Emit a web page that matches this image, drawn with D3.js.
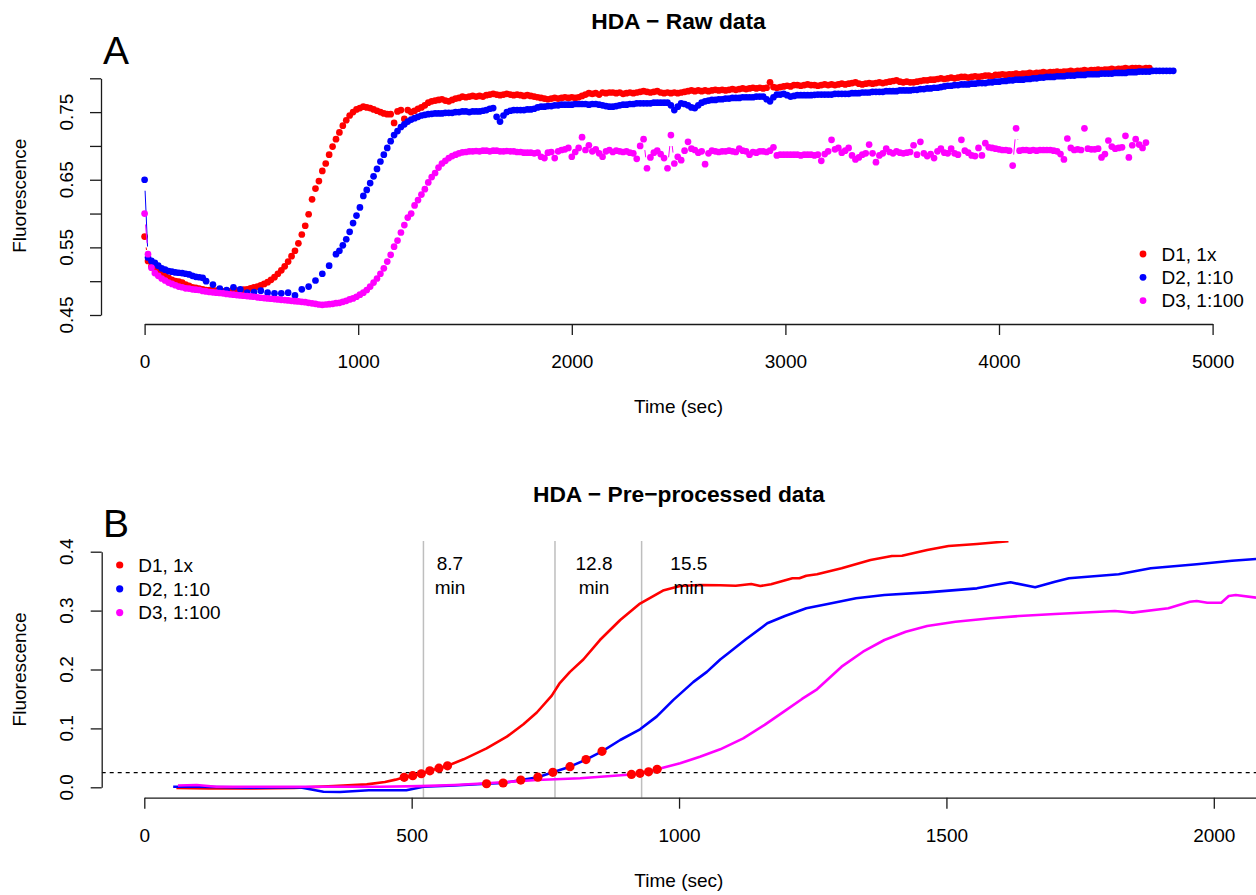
<!DOCTYPE html>
<html>
<head>
<meta charset="utf-8">
<script src="https://d3js.org/d3.v7.min.js"></script>
<style>
  body { margin: 0; background: #fff; }
  svg { display: block; font-family: "Liberation Sans", Arial, Helvetica, sans-serif; }
</style>
</head>
<body>
<svg id="chart" width="1256" height="895"></svg>
<script>
// ---------------------------------------------------------------
// Series
// ---------------------------------------------------------------
const seriesNames  = ["D1, 1x", "D2, 1:10", "D3, 1:100"];
const seriesColors = ["#FF0000", "#0000FF", "#FF00FF"];

// Raw plate-reader fluorescence, one reading every rawStep seconds (null = no reading)
const rawStep = 16;
const rawD1 = [
  0.566,0.530,0.522,0.517,0.514,0.511,0.508,0.505,0.502,0.500,0.4995,0.498,0.495,0.493,0.491,0.490,0.489,0.488,0.487,0.4868,
  0.4865,0.486,0.4855,0.485,0.4845,0.485,0.4855,0.486,0.4868,0.4875,0.488,0.4895,0.491,0.492,0.494,0.496,0.4985,0.502,0.506,0.511,
  0.516,0.522,0.529,0.537,0.545,0.556,0.569,0.582,0.599,0.621,0.637,0.648,0.663,0.674,0.687,0.699,0.710,0.720,0.730,0.738,
  0.745,0.750,0.754,0.756,0.758,0.757,0.756,0.754,0.752,0.750,0.748,0.747,0.747,0.734,0.751,0.753,0.740,0.753,0.750,0.752,
  0.755,0.757,0.760,0.764,0.766,0.767,0.768,0.769,0.767,0.766,0.768,0.770,0.771,0.773,0.772,0.773,0.774,0.773,0.774,0.773,
  0.775,0.776,0.777,0.776,0.775,0.776,0.777,0.776,0.775,0.776,0.775,0.774,0.775,0.774,0.773,0.772,0.771,0.770,0.769,0.770,
  0.771,0.770,0.771,0.772,0.771,0.772,0.771,0.772,0.774,0.776,0.778,0.777,0.778,0.776,0.779,0.778,0.779,0.779,0.778,0.779,
  0.777,0.778,0.779,0.778,0.779,0.780,0.781,0.780,0.779,0.780,0.781,0.779,0.778,0.779,0.778,0.779,0.778,0.779,0.780,0.781,
  0.782,0.781,0.782,0.781,0.782,0.781,0.782,0.783,0.782,0.783,0.782,0.783,0.784,0.783,0.784,0.785,0.784,0.785,0.786,0.785,
  0.786,0.785,0.786,0.794,0.787,0.786,0.787,0.788,0.789,0.788,0.790,0.790,0.789,0.790,0.791,0.790,0.790,0.789,0.790,0.791,
  0.790,0.791,0.790,0.791,0.792,0.791,0.792,0.793,0.794,0.792,0.791,0.792,0.793,0.792,0.793,0.794,0.793,0.794,0.795,0.796,
  0.797,0.795,0.794,0.795,0.794,0.794,0.795,0.796,0.797,0.797,0.798,0.798,0.799,0.800,0.799,0.800,0.801,0.800,0.801,0.802,
  0.802,0.801,0.802,0.803,0.802,0.803,0.804,0.804,0.803,0.805,0.805,0.806,0.805,0.806,0.806,0.807,0.806,0.807,0.807,0.808,
  0.807,0.808,0.808,0.809,0.808,0.809,0.809,0.810,0.809,0.810,0.810,0.811,0.810,0.811,0.811,0.812,0.811,0.812,0.812,0.813,
  0.812,0.813,0.813,0.814,0.813,0.814,0.814,0.815,0.814,0.815,0.815,0.815,0.814,0.815,0.815
];
const rawD2 = [
  0.650,0.535,0.530,0.527,0.523,0.519,0.517,0.515,0.514,0.513,0.5125,0.512,0.511,0.510,0.508,0.5065,0.5058,0.505,
  0.500,null,0.495,null,0.489,null,0.487,null,0.491,null,0.488,null,0.483,null,0.484,null,0.486,null,0.483,null,
  0.482,null,0.482,null,0.483,null,0.479,null,0.488,null,0.492,null,0.501,null,0.511,null,0.523,null,0.540,
  0.545,0.553,0.562,0.573,0.586,0.597,0.609,0.626,0.635,0.645,0.655,0.666,0.677,0.687,0.697,0.707,0.716,0.722,0.728,0.732,
  0.736,0.739,0.741,0.743,0.745,0.746,0.747,0.7475,0.748,0.748,0.748,
  0.749,0.749,0.749,0.750,0.750,0.751,0.751,0.750,0.751,0.751,
  0.751,0.752,0.753,0.755,0.756,0.743,0.736,0.745,0.750,0.752,
  0.753,0.753,0.753,0.753,0.754,0.754,0.755,0.757,0.758,0.758,
  0.759,0.759,0.760,0.760,0.761,0.761,0.761,0.761,0.762,0.762,
  0.762,0.762,0.761,0.762,0.762,0.761,0.760,0.759,0.758,0.758,
  0.759,0.760,0.761,0.761,0.762,0.762,0.763,0.763,0.763,0.763,
  0.763,0.764,0.764,0.764,0.764,0.764,0.760,0.753,0.758,0.763,
  0.762,0.760,0.757,0.756,0.760,0.764,0.766,0.767,0.768,0.768,
  0.769,0.769,0.770,0.770,0.771,0.771,0.771,0.772,0.772,0.772,
  0.772,0.773,0.773,0.773,0.769,0.766,0.772,0.776,0.776,0.777,
  0.775,0.773,0.774,0.775,0.775,0.775,0.775,0.775,0.7755,0.776,
  0.776,0.776,0.776,0.776,0.777,0.777,0.777,0.777,0.777,0.778,
  0.778,0.778,0.779,0.779,0.779,0.780,0.780,0.780,0.780,0.781,
  0.781,0.781,0.781,0.782,0.782,0.782,0.782,0.783,0.783,0.784,
  0.784,0.785,0.785,0.786,0.786,0.787,0.788,0.789,0.789,0.790,
  0.790,0.791,0.791,0.791,0.792,0.792,0.793,0.793,0.793,0.794,
  0.794,0.795,0.795,0.796,0.796,0.797,0.797,0.798,0.798,0.798,
  0.799,0.799,0.800,0.800,0.801,0.801,0.802,0.802,0.802,0.803,
  0.803,0.803,0.804,0.804,0.804,0.805,0.805,0.805,0.806,0.806,
  0.806,0.806,0.807,0.807,0.807,0.807,0.808,0.808,0.808,0.808,
  0.809,0.809,0.809,0.810,0.810,0.810,0.810,0.811,0.811,0.811,
  0.811,0.811,0.811,0.811
];
const rawD3 = [
  0.600,0.540,0.520,0.512,0.508,0.504,0.501,0.498,0.496,0.494,0.492,0.491,0.4895,0.489,0.488,0.4875,0.487,0.4855,0.4848,0.484,
  0.4835,0.483,0.4825,0.482,0.4812,0.4805,0.480,0.4795,0.479,0.4785,0.478,0.4775,0.477,0.4762,0.4755,0.475,0.4745,0.474,0.4735,0.473,
  0.4725,0.472,0.4715,0.471,0.4705,0.470,0.4695,0.469,0.468,0.4672,0.4665,0.4655,0.465,0.4655,0.466,0.4665,0.4675,0.468,0.4695,0.471,
  0.473,0.4745,0.477,0.480,0.483,0.487,0.492,0.498,0.504,0.511,0.519,0.529,0.539,0.551,0.560,0.572,0.583,0.594,0.600,0.612,
  0.620,0.628,0.636,0.646,0.654,0.660,0.668,0.674,0.678,0.682,0.685,0.687,0.689,0.6905,0.691,0.692,0.692,0.6925,0.692,0.693,
  0.693,0.692,0.693,0.693,0.692,0.692,0.6925,0.692,0.692,0.691,0.691,0.690,0.690,0.690,0.689,0.690,0.684,0.682,0.690,0.691,
  0.682,0.692,0.694,0.695,0.697,0.684,0.691,0.697,0.713,0.694,0.701,0.692,0.695,0.689,0.684,0.692,0.694,0.691,0.693,0.692,
  0.691,0.692,0.690,0.689,0.681,0.700,0.710,0.667,0.683,0.690,0.693,0.688,0.682,0.667,0.716,0.674,0.684,0.679,0.693,0.706,
  0.696,0.694,0.690,0.692,0.673,0.689,0.693,0.692,0.691,0.692,0.692,0.693,0.692,0.691,0.696,0.693,0.692,0.687,0.691,0.690,
  0.692,0.692,0.691,0.693,0.698,0.686,0.687,0.687,0.687,0.687,0.687,0.687,0.686,0.687,0.687,0.687,0.686,0.687,0.678,0.688,
  0.692,0.709,0.695,0.697,0.690,0.693,0.697,0.686,0.680,0.683,0.687,0.689,0.702,0.689,0.676,0.686,0.689,0.696,0.691,0.689,
  0.692,0.690,0.689,0.690,0.691,0.701,0.687,0.706,0.689,0.685,0.688,0.682,0.692,0.696,0.690,0.689,0.696,0.689,0.687,0.709,
  0.693,0.690,0.686,0.685,0.697,0.686,0.704,0.698,0.697,0.696,0.695,0.694,0.694,0.693,0.671,0.726,0.693,0.694,0.694,0.693,
  0.694,0.693,0.694,0.694,0.694,0.694,0.693,0.692,0.688,0.680,0.711,0.697,0.694,0.695,0.694,0.726,0.696,0.695,0.695,0.696,
  0.683,0.688,0.708,0.699,0.696,0.697,0.698,0.715,0.683,0.701,0.710,0.702,0.697,0.705
];
const rawXTicks = [0, 1000, 2000, 3000, 4000, 5000];
const rawYTicks = [0.45, 0.50, 0.55, 0.60, 0.65, 0.70, 0.75, 0.80];
const rawYLabelled = [0.45, 0.55, 0.65, 0.75];

// Pre-processed (baseline-corrected, smoothed) curves: [time (s), fluorescence]
const preD1 = [[60,-0.001],[120,-0.002],[200,-0.002],[280,-0.001],[354,0.002],[416,0.005],[450,0.009],[470,0.013],
  [486,0.017],[502,0.0197],[518,0.023],[534,0.028],[551,0.0325],[567,0.0365],[597,0.0475],[640,0.066],[678,0.086],
  [709,0.107],[734,0.127],[762,0.1556],[777,0.177],[796,0.196],[821,0.217],[852,0.25],[890,0.284],[927,0.312],
  [970,0.334],[1002,0.3418],[1039,0.3435],[1077,0.343],[1106,0.3423],[1135,0.3452],[1152,0.3418],[1172,0.3447],
  [1212,0.3548],[1225,0.3548],[1238,0.3593],[1258,0.3616],[1304,0.3718],[1358,0.3859],[1398,0.3927],[1417,0.3932],
  [1464,0.4029],[1504,0.4097],[1557,0.4131],[1616,0.4177]];
const preD2 = [[54,0.001],[100,0.001],[200,-0.0005],[290,0.0],[335,-0.0075],[366,-0.008],[420,-0.005],[490,-0.005],
  [522,0.001],[580,0.003],[640,0.006],[671,0.0073],[704,0.0122],[736,0.0172],[764,0.0255],[796,0.035],[826,0.047],
  [856,0.061],[890,0.0803],[927,0.0985],[958,0.12],[989,0.148],[1027,0.179],[1052,0.196],[1077,0.217],[1092,0.2275],
  [1125,0.2513],[1165,0.2784],[1198,0.2908],[1238,0.304],[1278,0.3112],[1331,0.321],[1384,0.3265],[1464,0.331],
  [1557,0.3378],[1590,0.3435],[1620,0.348],[1666,0.3396],[1703,0.349],[1729,0.3548],[1822,0.3616],[1882,0.3718],
  [1968,0.3786],[2034,0.3847],[2079,0.3876]];
const preD3 = [[63,0.003],[98,0.004],[135,0.001],[300,0.001],[441,0.001],[516,0.002],[580,0.004],[640,0.0068],
  [734,0.0124],[815,0.0153],[911,0.0218],[927,0.0237],[943,0.0263],[959,0.0306],[1002,0.0407],[1039,0.052],
  [1077,0.0645],[1120,0.083],[1160,0.106],[1200,0.131],[1230,0.150],[1258,0.1664],[1304,0.2048],[1344,0.2302],
  [1384,0.2501],[1424,0.2642],[1464,0.2739],[1517,0.2812],[1583,0.2869],[1636,0.2908],[1703,0.2942],[1815,0.2993],
  [1848,0.2965],[1915,0.304],[1955,0.3151],[1968,0.3163],[1988,0.3134],[2014,0.3134],[2028,0.3248],[2041,0.3265],
  [2079,0.322]];

// Readings around the threshold crossing used for the Ct estimate
const fitD1 = [[486,0.017],[502,0.0197],[518,0.023],[534,0.028],[551,0.0325],[567,0.0365]];
const fitD2 = [[640,0.006],[671,0.0073],[704,0.0122],[736,0.0172],[764,0.0255],[796,0.035],[826,0.047],[856,0.061]];
const fitD3 = [[911,0.0218],[927,0.0237],[943,0.0263],[959,0.0306]];

const threshold = 0.025;
const ctMinutes = [8.7, 12.8, 15.5];
const preXTicks = [0, 500, 1000, 1500, 2000, 2500];
const preYTicks = [0, 0.1, 0.2, 0.3, 0.4];

// ---------------------------------------------------------------
// Layout
// ---------------------------------------------------------------
const W = 1256;
const FONT = 19;
const TICK = 11;
const INK = "#1a1a1a";
const svg = d3.select("#chart");

const rawBox = { left: 101, right: W, top: 67.6, bottom: 324 };
const preBox = { left: 101.7, right: W, top: 541, bottom: 797.7 };

const xRaw = d3.scaleLinear().domain([0, 5000]).range([144.6, 1212.6]);
const yRaw = d3.scaleLinear().domain([0.45, 0.80]).range([315, 78.3]);
const xPre = d3.scaleLinear().domain([0, 2000]).range([144.3, 1213.8]);
const yPre = d3.scaleLinear().domain([0, 0.4]).range([787.3, 551.7]);

function styleAxis(g) {
  g.attr("font-size", FONT).attr("font-family", null);
  g.selectAll("path, line").attr("stroke", INK).attr("stroke-width", 1.3);
  g.selectAll("text").attr("fill", "#000");
}

// x axis: the line runs to the last tick even past the page edge; labels only where they fit
function bottomAxis(scale, ticks, y, fmt) {
  const s = scale.copy().domain([ticks[0], ticks[ticks.length - 1]])
    .range([scale(ticks[0]), scale(ticks[ticks.length - 1])]);
  const g = svg.append("g").attr("transform", `translate(0,${y})`)
    .call(d3.axisBottom(s).tickValues(ticks).tickSize(TICK).tickSizeOuter(0)
      .tickPadding(19.5).tickFormat(d => s(d) + 25 <= W ? fmt(d) : ""));
  styleAxis(g);
}

function leftAxis(scale, ticks, labelled, x, fmt) {
  const g = svg.append("g").attr("transform", `translate(${x},0)`)
    .call(d3.axisLeft(scale).tickValues(ticks).tickSize(TICK).tickSizeOuter(0).tickFormat(""));
  styleAxis(g);
  svg.append("g").selectAll("text").data(labelled).join("text")
    .attr("transform", d => `translate(73,${scale(d)}) rotate(-90)`)
    .attr("text-anchor", "middle")
    .attr("font-size", FONT)
    .text(fmt);
}

function axisTitle(text, x, y, rotate) {
  svg.append("text")
    .attr("transform", `translate(${x},${y})` + (rotate ? " rotate(-90)" : ""))
    .attr("text-anchor", "middle").attr("font-size", FONT).text(text);
}

// Lines broken around each point, like R's type = "b"
function gappedSegments(pts, gap) {
  const segs = [];
  for (let i = 1; i < pts.length; i++) {
    const a = pts[i - 1], b = pts[i];
    if (!a || !b) continue;
    const dx = b[0] - a[0], dy = b[1] - a[1], L = Math.hypot(dx, dy);
    if (L <= 2 * gap) continue;
    const f = gap / L;
    segs.push([a[0] + f * dx, a[1] + f * dy, b[0] - f * dx, b[1] - f * dy]);
  }
  return segs;
}

function legend(x, y0, step, r) {
  const g = svg.append("g");
  seriesNames.forEach((name, i) => {
    const cy = y0 + i * step;
    g.append("circle").attr("cx", x).attr("cy", cy).attr("r", r).attr("fill", seriesColors[i]);
    g.append("text").attr("x", x + 18.5).attr("y", cy + 6.8).attr("font-size", FONT).text(name);
  });
}

// ---------------------------------------------------------------
// Panel A: raw data
// ---------------------------------------------------------------
svg.append("text").attr("x", (rawBox.left + rawBox.right) / 2).attr("y", 29.3)
  .attr("text-anchor", "middle").attr("font-size", 22.8).attr("font-weight", "bold")
  .text("HDA \u2212 Raw data");
svg.append("text").attr("x", 103).attr("y", 64).attr("font-size", 39).text("A");

[rawD1, rawD2, rawD3].forEach((vals, s) => {
  const pts = vals.map((v, i) => v == null ? null : [xRaw(i * rawStep), yRaw(v)]);
  const g = svg.append("g");
  g.selectAll("line").data(gappedSegments(pts, 11)).join("line")
    .attr("x1", d => d[0]).attr("y1", d => d[1]).attr("x2", d => d[2]).attr("y2", d => d[3])
    .attr("stroke", seriesColors[s]).attr("stroke-width", 1);
  g.selectAll("circle").data(pts.filter(Boolean)).join("circle")
    .attr("cx", d => d[0]).attr("cy", d => d[1]).attr("r", 3.35)
    .attr("fill", seriesColors[s]);
});

bottomAxis(xRaw, rawXTicks, rawBox.bottom, d3.format("d"));
leftAxis(yRaw, rawYTicks, rawYLabelled, rawBox.left, d3.format(".2f"));
axisTitle("Time (sec)", (rawBox.left + rawBox.right) / 2, 413);
axisTitle("Fluorescence", 25.5, (rawBox.top + rawBox.bottom) / 2, true);
legend(1143, 254, 23.3, 3.4);

// ---------------------------------------------------------------
// Panel B: pre-processed data
// ---------------------------------------------------------------
svg.append("text").attr("x", (preBox.left + preBox.right) / 2).attr("y", 502)
  .attr("text-anchor", "middle").attr("font-size", 22.8).attr("font-weight", "bold")
  .text("HDA \u2212 Pre\u2212processed data");
svg.append("text").attr("x", 103).attr("y", 537).attr("font-size", 39).text("B");

svg.append("defs").append("clipPath").attr("id", "preClip").append("rect")
  .attr("x", preBox.left).attr("y", preBox.top)
  .attr("width", preBox.right - preBox.left).attr("height", preBox.bottom - preBox.top);

const pre = svg.append("g").attr("clip-path", "url(#preClip)");

// Ct marker lines
pre.selectAll("line.ct").data(ctMinutes).join("line").attr("class", "ct")
  .attr("x1", d => xPre(d * 60)).attr("x2", d => xPre(d * 60))
  .attr("y1", preBox.top).attr("y2", preBox.bottom)
  .attr("stroke", "#BEBEBE").attr("stroke-width", 1.5);

// threshold
pre.append("line")
  .attr("x1", preBox.left).attr("x2", preBox.right)
  .attr("y1", yPre(threshold)).attr("y2", yPre(threshold))
  .attr("stroke", "#000").attr("stroke-width", 1.2).attr("stroke-dasharray", "4,4");

const line = d3.line().x(d => xPre(d[0])).y(d => yPre(d[1]));
[preD1, preD2, preD3].forEach((curve, s) => {
  pre.append("path").attr("d", line(curve)).attr("fill", "none")
    .attr("stroke", seriesColors[s]).attr("stroke-width", 2.6).attr("stroke-linejoin", "round");
});

pre.selectAll("circle.fit").data([...fitD1, ...fitD2, ...fitD3]).join("circle").attr("class", "fit")
  .attr("cx", d => xPre(d[0])).attr("cy", d => yPre(d[1])).attr("r", 4.6)
  .attr("fill", "#FF0000");

// Ct labels, set just right of each marker line
const labelShift = 1.095;
const ctLab = svg.append("g").attr("font-size", FONT).attr("text-anchor", "middle");
ctMinutes.forEach(ct => {
  const x = xPre(ct * 60 * labelShift);
  ctLab.append("text").attr("x", x).attr("y", preBox.top + 29).text(ct.toFixed(1));
  ctLab.append("text").attr("x", x).attr("y", preBox.top + 53).text("min");
});

bottomAxis(xPre, preXTicks, preBox.bottom, d3.format("d"));
leftAxis(yPre, preYTicks, preYTicks, preBox.left, d3.format(".1f"));
axisTitle("Time (sec)", (preBox.left + preBox.right) / 2, 886.5);
axisTitle("Fluorescence", 26, (preBox.top + preBox.bottom) / 2, true);
legend(119.7, 565, 23.8, 3.6);
</script>
</body>
</html>
